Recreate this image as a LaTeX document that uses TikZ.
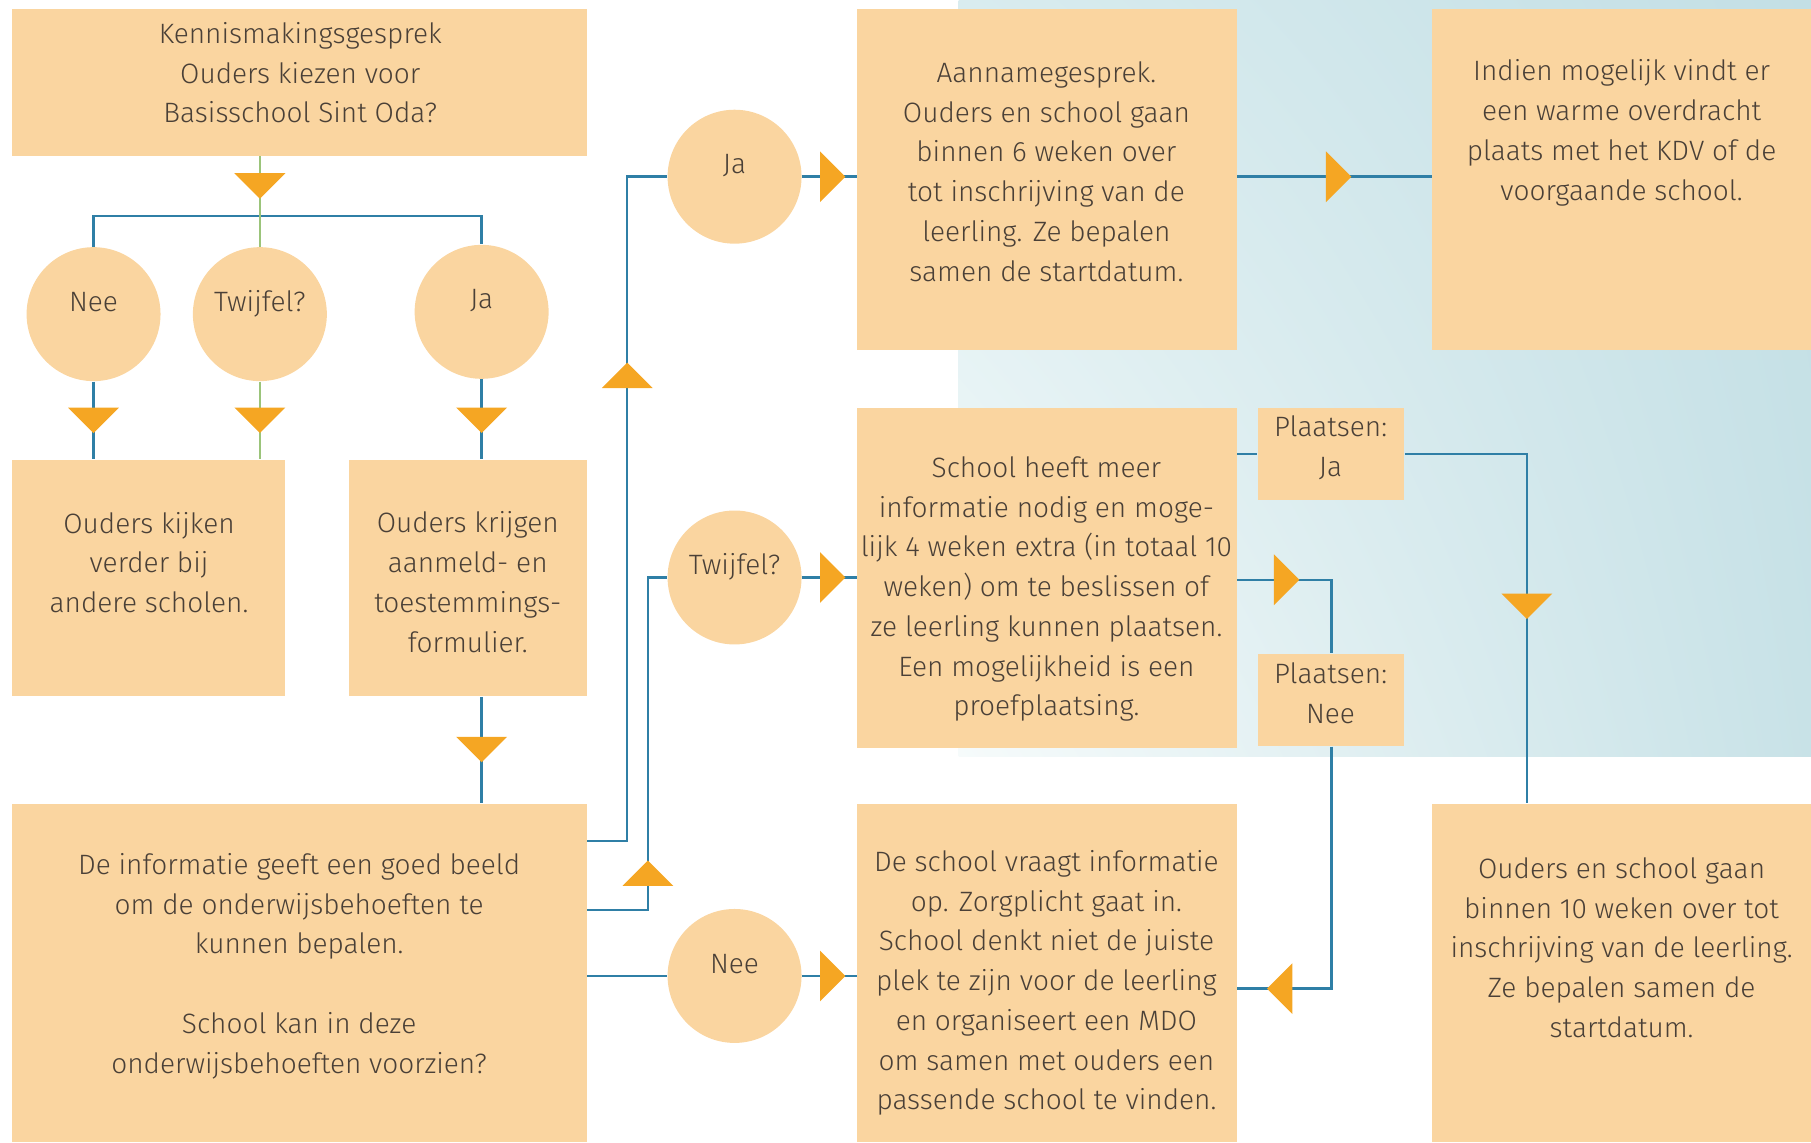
\documentclass[tikz,border=0pt]{standalone}
\usepackage{fontspec}
\setmainfont{Fira Sans Light}
\usetikzlibrary{calc,shadings}
\definecolor{peach}{HTML}{FAD5A0}
\definecolor{arrowc}{HTML}{F5A623}
\definecolor{lineblue}{HTML}{2F7FA6}
\definecolor{linegreen}{HTML}{9BC47A}
\definecolor{txtc}{HTML}{4A4037}
\definecolor{bgUL}{HTML}{D9ECEF}
\definecolor{bgUR}{HTML}{C3DFE5}
\definecolor{bgLL}{HTML}{F6FBFB}
\definecolor{bgLR}{HTML}{C8E2E7}
\tikzset{
  box/.style={rectangle, fill=peach, inner sep=0pt},
  bub/.style={circle, fill=peach, inner sep=0pt, minimum size=2.32cm, text=txtc,
    font=\fontsize{13.8pt}{19.6pt}\selectfont, text height=0.35cm, text depth=0.45cm},
  txtn/.style={align=center, text=txtc, inner sep=0pt, font=\fontsize{13.8pt}{19.6pt}\selectfont},
  conn/.style={draw=lineblue, line width=1.2pt},
  connG/.style={draw=linegreen, line width=1.2pt},
  triD/.pic={\fill[arrowc] (-22,0) -- (22,0) -- (0,22) -- cycle;},
  triU/.pic={\fill[arrowc] (-22,0) -- (22,0) -- (0,-22) -- cycle;},
  triR/.pic={\fill[arrowc] (0,-22) -- (22,0) -- (0,22) -- cycle;},
  triL/.pic={\fill[arrowc] (0,-22) -- (-22,0) -- (0,22) -- cycle;},
}
\begin{document}
\begin{tikzpicture}[x=0.02cm, y=-0.02cm]
\useasboundingbox (0,0) rectangle (1568,989);
\shade[upper left=bgUL, upper right=bgUR, lower left=bgLL, lower right=bgLR] (830,0) rectangle (1568,655);

% boxes
\node[box, minimum width=9.96cm, minimum height=2.54cm] (top) at (259,71.5) {};
\node[box, minimum width=4.74cm, minimum height=4.10cm] (kijk) at (128.5,500.5) {};
\node[box, minimum width=4.12cm, minimum height=4.10cm] (krijg) at (405,500.5) {};
\node[box, minimum width=9.96cm, minimum height=5.86cm] (info) at (259,842.5) {};
\node[box, minimum width=6.58cm, minimum height=5.90cm] (aan) at (906.5,155.5) {};
\node[box, minimum width=6.56cm, minimum height=5.90cm] (indien) at (1404,155.5) {};
\node[box, minimum width=6.58cm, minimum height=5.90cm] (sch) at (906.5,500.5) {};
\node[box, minimum width=2.54cm, minimum height=1.60cm] (pja) at (1152.5,393) {};
\node[box, minimum width=2.54cm, minimum height=1.60cm] (pnee) at (1152.5,606) {};
\node[box, minimum width=6.58cm, minimum height=5.86cm] (vraag) at (906.5,842.5) {};
\node[box, minimum width=6.56cm, minimum height=5.86cm] (o10) at (1404,842.5) {};

% texts
\node[txtn] (ttop) at (260,63) {Kennismakingsgesprek\\Ouders kiezen voor\\Basisschool Sint Oda?};
\node[txtn] (tkijk) at (129,487) {Ouders kijken\\verder bij\\andere scholen.};
\node[txtn] (tkrijg) at (405,504) {Ouders krijgen\\aanmeld- en\\toestemmings-\\formulier.};
\node[txtn] (tinfo) at (259,836.5) {De informatie geeft een goed beeld\\om de onderwijsbehoeften te\\kunnen bepalen.\\[19.6pt]School kan in deze\\onderwijsbehoeften voorzien?};
\node[txtn] (taan) at (906,148.5) {Aannamegesprek.\\Ouders en school gaan\\binnen 6 weken over\\tot inschrijving van de\\leerling. Ze bepalen\\samen de startdatum.};
\node[txtn] (tindien) at (1404,115) {Indien mogelijk vindt er\\een warme overdracht\\plaats met het KDV of de\\voorgaande school.};
\node[txtn] (tsch) at (906,510) {School heeft meer\\informatie nodig en moge-\\lijk 4 weken extra (in totaal 10\\weken) om te beslissen of\\ze leerling kunnen plaatsen.\\Een mogelijkheid is een\\proefplaatsing.};
\node[txtn] (tpja) at (1152,387.5) {Plaatsen:\\Ja};
\node[txtn] (tpnee) at (1152,600.5) {Plaatsen:\\Nee};
\node[txtn] (tvraag) at (906,851) {De school vraagt informatie\\op. Zorgplicht gaat in.\\School denkt niet de juiste\\plek te zijn voor de leerling\\en organiseert een MDO\\om samen met ouders een\\passende school te vinden.};
\node[txtn] (to10) at (1404,820.5) {Ouders en school gaan\\binnen 10 weken over tot\\inschrijving van de leerling.\\Ze bepalen samen de\\startdatum.};

% bubbles
\node[bub] (nee1) at (81,272) {Nee};
\node[bub] (tw1) at (225,272) {Twijfel?};
\node[bub] (ja1) at (417,270) {Ja};
\node[bub] (ja2) at (636,153) {Ja};
\node[bub] (tw2) at (636,500) {Twijfel?};
\node[bub] (nee2) at (636,845) {Nee};

% connectors
\coordinate (split) at (225,187);
\draw[conn] (nee1.north) |- (split) -| (ja1.north);
\draw[connG] (tw1.north |- top.south) -- (tw1.north);
\draw[conn] (nee1.south) -- (nee1.south |- kijk.north);
\draw[connG] (tw1.south) -- (tw1.south |- kijk.north);
\draw[conn] (ja1.south) -- (ja1.south |- krijg.north);
\draw[conn] (ja1.south |- krijg.south) -- (ja1.south |- info.north);
\coordinate (c1) at (543,728);
\draw[conn] (c1 -| info.east) -- (c1) |- (ja2.west);
\coordinate (c2) at (561,788);
\draw[conn] (c2 -| info.east) -- (c2) |- (tw2.west);
\draw[conn] (nee2.west -| info.east) -- (nee2.west);
\draw[conn] (ja2.east) -- (ja2.east -| aan.west);
\draw[conn] (tw2.east) -- (tw2.east -| sch.west);
\draw[conn] (nee2.east) -- (nee2.east -| vraag.west);
\draw[conn] (ja2 -| aan.east) -- (ja2 -| indien.west);
\draw[conn] (pja.west -| sch.east) -- (pja.west);
\coordinate (c3) at (1322,393);
\draw[conn] (pja.east) -- (c3) -- (c3 |- o10.north);
\coordinate (c4) at (1153,502);
\draw[conn] (c4 -| sch.east) -- (c4) -- (c4 |- pnee.north);
\coordinate (c5) at (1153,856);
\draw[conn] (c5 |- pnee.south) -- (c5) -- (c5 -| vraag.east);

% arrow heads
\pic at (225,150) {triD};
\pic at (81,353) {triD};
\pic at (225,353) {triD};
\pic at (417,353) {triD};
\pic at (417,638) {triD};
\pic at (543,336) {triU};
\pic at (561,767) {triU};
\pic at (710,153) {triR};
\pic at (710,500) {triR};
\pic at (710,845) {triR};
\pic at (1148,153) {triR};
\pic at (1103,502) {triR};
\pic at (1119,856) {triL};
\pic at (1322,514) {triD};
\end{tikzpicture}
\end{document}
